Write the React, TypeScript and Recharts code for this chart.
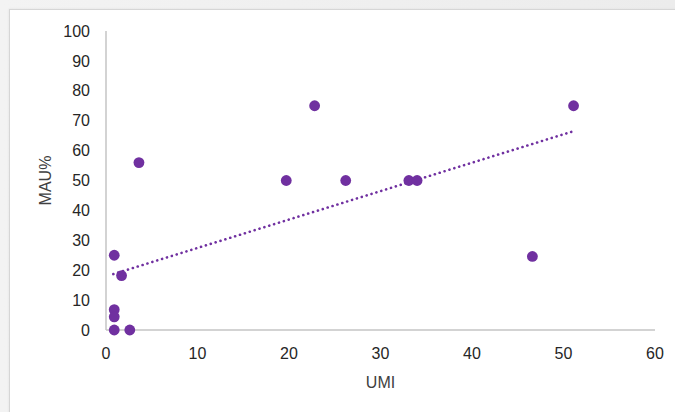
import React from "react";
import { ScatterChart, Scatter, XAxis, YAxis } from "recharts";

// UMI vs MAU% points
const umi = [0.9, 1.7, 0.9, 0.9, 0.9, 2.6, 3.6, 19.7, 22.8, 26.2, 33.1, 34.0, 46.6, 51.1];
const mau = [25, 18.2, 6.8, 4.4, 0, 0, 56, 50, 75, 50, 50, 50, 24.6, 75];

// linear trendline endpoints as drawn in the reference
const trendUmi = [0.8, 51.1];
const trendMau = [18.7, 66.5];

const xTicks = [0, 10, 20, 30, 40, 50, 60];
const yTicks = [0, 10, 20, 30, 40, 50, 60, 70, 80, 90, 100];

const PURPLE = "#7030a0";
const FONT = "'Liberation Sans', Arial, sans-serif";

const points = umi.map((x, i) => ({ x, y: mau[i] }));
const trend = trendUmi.map((x, i) => ({ x, y: trendMau[i] }));

const Dot = (props: any) => {
  const { cx, cy } = props;
  if (cx == null || cy == null) return <g />;
  return <circle cx={cx} cy={cy} r={5.4} fill={PURPLE} />;
};

const YTitle = (props: any) => {
  const { viewBox } = props;
  const cx = viewBox.x - 1;
  const cy = viewBox.y + viewBox.height / 2;
  return (
    <text
      x={cx}
      y={cy}
      transform={`rotate(-90 ${cx} ${cy})`}
      textAnchor="middle"
      dominantBaseline="central"
      fill="#404040"
      fontSize={16}
      fontFamily={FONT}
    >
      MAU%
    </text>
  );
};

export default function App() {
  return (
    <div
      style={{
        position: "absolute",
        left: 0,
        top: 0,
        width: 675,
        height: 412,
        overflow: "hidden",
        background: "linear-gradient(90deg, #f3f3f3, #ececec)",
      }}
    >
      <div
        style={{
          position: "absolute",
          left: 9,
          top: 9,
          width: 680,
          height: 420,
          background: "#fff",
          border: "1px solid #d6d6d6",
          boxShadow: "0 0 2px #e0e0e0",
        }}
      />
      <div style={{ position: "absolute", left: 0, top: 0 }}>
        <ScatterChart
          width={675}
          height={412}
          margin={{ top: 31, right: 20, bottom: 42, left: 46 }}
        >
          <XAxis
            type="number"
            dataKey="x"
            domain={[0, 60]}
            ticks={xTicks}
            tickLine={false}
            tickMargin={12}
            height={40}
            stroke="#c4c4c4"
            strokeWidth={1.5}
            tick={{ fill: "#262626", fontSize: 16, fontFamily: FONT }}
            label={{
              value: "UMI",
              position: "bottom",
              offset: 7,
              fill: "#404040",
              fontSize: 16,
              fontFamily: FONT,
            }}
          />
          <YAxis
            type="number"
            dataKey="y"
            domain={[0, 100]}
            ticks={yTicks}
            tickLine={false}
            tickMargin={10}
            width={60}
            stroke="#c4c4c4"
            strokeWidth={1.5}
            tick={{ fill: "#262626", fontSize: 16, fontFamily: FONT }}
            label={<YTitle />}
          />
          <Scatter
            data={trend}
            isAnimationActive={false}
            shape={() => <g />}
            line={{
              stroke: PURPLE,
              strokeWidth: 2.6,
              strokeDasharray: "0.1 5",
              strokeLinecap: "round",
            }}
          />
          <Scatter
            data={points}
            isAnimationActive={false}
            shape={<Dot />}
          />
        </ScatterChart>
      </div>
    </div>
  );
}
